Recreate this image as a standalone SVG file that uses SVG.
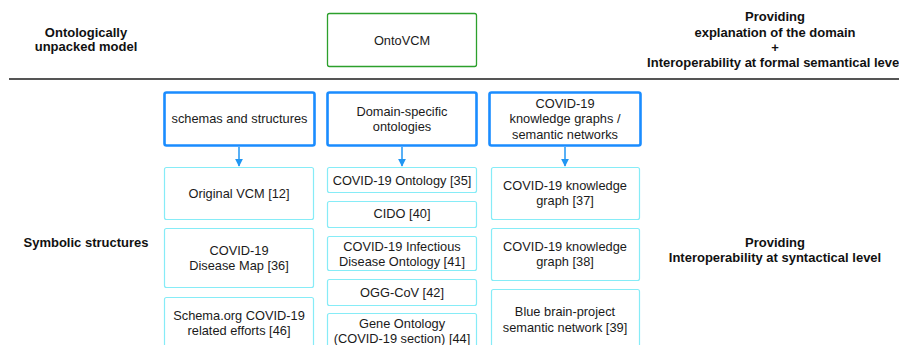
<svg xmlns="http://www.w3.org/2000/svg" width="899" height="345" viewBox="0 0 899 345">
<defs>
<style>
.lbl{font-family:"Liberation Sans",Arial,Helvetica,sans-serif;font-size:13px;font-weight:bold;fill:#111;text-anchor:middle}
.t{font-family:"Liberation Sans",Arial,Helvetica,sans-serif;font-size:12.8px;fill:#1a1a1a;text-anchor:middle}
.hdr{fill:#fff;stroke:#1a8cff;stroke-width:2.6}
.ch{fill:#fff;stroke:#86ecf7;stroke-width:1.2}
.conn{stroke:#2196f3;stroke-width:1.5;fill:none}
</style>
<marker id="ah" viewBox="0 0 10 10" refX="9" refY="5" markerWidth="8" markerHeight="8" markerUnits="userSpaceOnUse" orient="auto">
<path d="M0,0 L10,5 L0,10 z" fill="#2196f3"/>
</marker>
</defs>
<rect width="899" height="345" fill="#fff"/>

<g id="labels">
<text class="lbl" x="86" y="37">Ontologically</text>
<text class="lbl" x="86" y="51">unpacked model</text>
<text class="lbl" x="775" y="21">Providing</text>
<text class="lbl" x="775" y="37">explanation of the domain</text>
<text class="lbl" x="775" y="52">+</text>
<text class="lbl" x="775" y="67">Interoperability at formal semantical level</text>
<text class="lbl" x="86" y="247">Symbolic structures</text>
<text class="lbl" x="775" y="247">Providing</text>
<text class="lbl" x="775" y="262">Interoperability at syntactical level</text>
</g>
<line x1="9" y1="79" x2="899" y2="79" stroke="#555" stroke-width="1.8"/>

<g id="ontovcm">
<rect x="327.5" y="13.5" width="149" height="53" rx="2" fill="#fff" stroke="#2ca02c" stroke-width="1.3"/>
<text class="t" x="402" y="44.5">OntoVCM</text>
</g>

<g id="h1"><rect class="hdr" x="164.5" y="92.5" width="150" height="53" rx="2"/>
<text class="t" x="239.5" y="123">schemas and structures</text></g>
<g id="h2"><rect class="hdr" x="327.5" y="92.5" width="149" height="53" rx="2"/>
<text class="t" x="402" y="115.5">Domain-specific</text><text class="t" x="402" y="131">ontologies</text></g>
<g id="h3"><rect class="hdr" x="489.5" y="92.5" width="151" height="53" rx="2"/>
<text class="t" x="565" y="107.5">COVID-19</text><text class="t" x="565" y="123">knowledge graphs /</text><text class="t" x="565" y="138.5">semantic networks</text></g>

<g id="connectors">
<line class="conn" x1="239" y1="147" x2="239" y2="166" marker-end="url(#ah)"/>
<line class="conn" x1="402" y1="147" x2="402" y2="166" marker-end="url(#ah)"/>
<line class="conn" x1="565" y1="147" x2="565" y2="166" marker-end="url(#ah)"/>
</g>

<g id="c1a"><rect class="ch" x="164.5" y="167.5" width="149" height="52" rx="2"/>
<text class="t" x="239" y="198">Original VCM [12]</text></g>
<g id="c1b"><rect class="ch" x="164.5" y="228.5" width="149" height="59" rx="2"/>
<text class="t" x="239" y="254.5">COVID-19</text><text class="t" x="239" y="270">Disease Map [36]</text></g>
<g id="c1c"><rect class="ch" x="164.5" y="297.5" width="149" height="60" rx="2"/>
<text class="t" x="239" y="319.5">Schema.org COVID-19</text><text class="t" x="239" y="335">related efforts [46]</text></g>

<g id="c2a"><rect class="ch" x="327.5" y="167.5" width="149" height="25" rx="2"/>
<text class="t" x="402" y="184.5">COVID-19 Ontology [35]</text></g>
<g id="c2b"><rect class="ch" x="327.5" y="201.5" width="149" height="26" rx="2"/>
<text class="t" x="402" y="218">CIDO [40]</text></g>
<g id="c2c"><rect class="ch" x="327.5" y="236.5" width="149" height="34" rx="2"/>
<text class="t" x="402" y="250.5">COVID-19 Infectious</text><text class="t" x="402" y="265.5">Disease Ontology [41]</text></g>
<g id="c2d"><rect class="ch" x="327.5" y="279.5" width="149" height="26" rx="2"/>
<text class="t" x="402" y="296.5">OGG-CoV [42]</text></g>
<g id="c2e"><rect class="ch" x="327.5" y="313.5" width="149" height="40" rx="2"/>
<text class="t" x="402" y="328">Gene Ontology</text><text class="t" x="402" y="343">(COVID-19 section) [44]</text></g>

<g id="c3a"><rect class="ch" x="491.5" y="167.5" width="148" height="52" rx="2"/>
<text class="t" x="565" y="189.5">COVID-19 knowledge</text><text class="t" x="565" y="205">graph [37]</text></g>
<g id="c3b"><rect class="ch" x="491.5" y="228.5" width="148" height="52" rx="2"/>
<text class="t" x="565" y="250.5">COVID-19 knowledge</text><text class="t" x="565" y="266">graph [38]</text></g>
<g id="c3c"><rect class="ch" x="491.5" y="289.5" width="148" height="60" rx="2"/>
<text class="t" x="565" y="316">Blue brain-project</text><text class="t" x="565" y="331.5">semantic network [39]</text></g>
</svg>
